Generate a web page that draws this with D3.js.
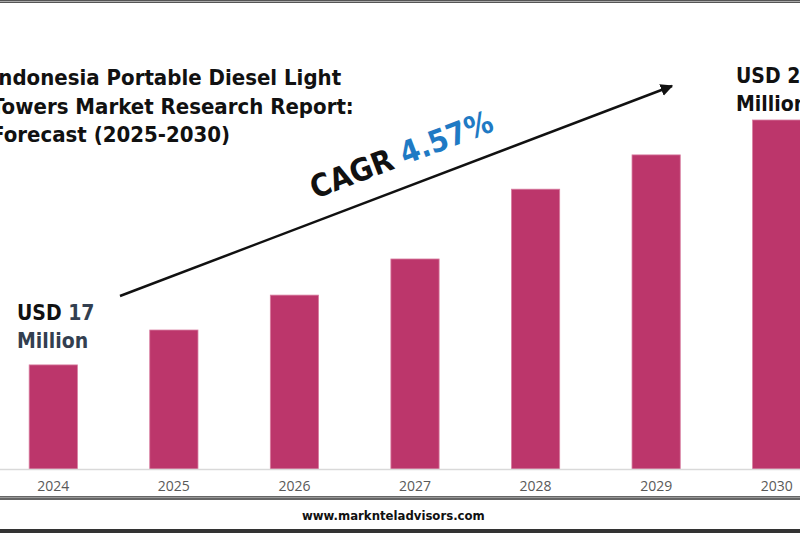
<!DOCTYPE html>
<html>
<head>
<meta charset="utf-8">
<script src="https://cdn.jsdelivr.net/npm/d3@7"></script>
<style>
  body { margin: 0; background: #fff; }
  svg { display: block; }
  text { font-family: 'DejaVu Sans Condensed', 'DejaVu Sans', sans-serif; }
</style>
</head>
<body>
<div id="viz"></div>
<script>
  // data (bar heights in relative units, 2024 = 17)
  var years = ["2024", "2025", "2026", "2027", "2028", "2029", "2030"];
  var values = [17, 22.7, 28.4, 34.3, 45.7, 51.3, 57.0];
  var titleLines = ["Indonesia Portable Diesel Light", "Towers Market Research Report:", "Forecast (2025-2030)"];

  var width = 800, height = 533;
  var base = 469;

  var svg = d3.select("#viz").append("svg")
    .attr("width", width)
    .attr("height", height);

  var x = d3.scaleBand()
    .domain(years)
    .range([-7, 837])
    .paddingInner(0.6)
    .paddingOuter(0.3);

  var y = d3.scaleLinear()
    .domain([0, 57])
    .range([base, 120]);

  // frame lines
  svg.append("rect").attr("x", 0).attr("y", 0).attr("width", width).attr("height", 3).style("fill", "#555");
  svg.append("rect").attr("x", 0).attr("y", 1).attr("width", width).attr("height", 1).style("fill", "#aaa");
  svg.append("rect").attr("x", 0).attr("y", 496).attr("width", width).attr("height", 4).style("fill", "#666");
  svg.append("rect").attr("x", 0).attr("y", 497).attr("width", width).attr("height", 1).style("fill", "#999");
  svg.append("rect").attr("x", 0).attr("y", 529).attr("width", width).attr("height", 4).style("fill", "#333");

  // bars
  svg.selectAll(".bar")
    .data(values)
    .enter().append("rect")
    .attr("class", "bar")
    .attr("x", function(d, i) { return x(years[i]); })
    .attr("width", x.bandwidth())
    .attr("y", function(d) { return y(d); })
    .attr("height", function(d) { return base - y(d); })
    .style("fill", "#bc366b")
    .style("stroke", "#d87da0")
    .style("stroke-width", 0.8);

  // x axis
  var axis = svg.append("g")
    .attr("transform", "translate(0," + base + ")")
    .call(d3.axisBottom(x).tickSize(0).tickPadding(12));
  axis.select(".domain").attr("d", "M0,0.5H" + width).style("stroke", "#d9d9d9").style("stroke-width", 1.5);
  axis.selectAll("text")
    .style("font-family", "'Open Sans', sans-serif")
    .style("font-size", "14px")
    .style("fill", "#595959");

  // title
  svg.append("g").selectAll("text")
    .data(titleLines)
    .enter().append("text")
    .attr("x", -9)
    .attr("y", function(d, i) { return 85 + i * 28.5; })
    .text(function(d) { return d; })
    .style("font-size", "22px")
    .style("font-weight", "bold")
    .style("fill", "#111");

  // CAGR arrow
  svg.append("defs").append("marker")
    .attr("id", "arrow")
    .attr("viewBox", "0 0 10 10")
    .attr("refX", 9).attr("refY", 5)
    .attr("markerWidth", 5).attr("markerHeight", 5)
    .attr("orient", "auto")
    .append("path").attr("d", "M0,0L10,5L0,10z").style("fill", "#111");

  svg.append("line")
    .attr("x1", 120).attr("y1", 296)
    .attr("x2", 672).attr("y2", 86)
    .style("stroke", "#111")
    .style("stroke-width", 2.5)
    .attr("marker-end", "url(#arrow)");

  var angle = Math.atan2(86 - 296, 672 - 120) * 180 / Math.PI;
  var cagr = svg.append("text")
    .attr("transform", "translate(315,199) rotate(" + angle + ")")
    .style("font-size", "31px")
    .style("font-weight", "bold");
  cagr.append("tspan").text("CAGR ").style("fill", "#111");
  cagr.append("tspan").text("4.57%").style("fill", "#1f7ac4");

  // start / end labels
  var start = svg.append("text").attr("x", 17).attr("y", 320).style("font-size", "21px").style("font-weight", "bold");
  start.append("tspan").text("USD ").style("fill", "#111");
  start.append("tspan").text("17").style("fill", "#333f50");
  svg.append("text").attr("x", 17).attr("y", 348).text("Million")
    .style("font-size", "21px").style("font-weight", "bold").style("fill", "#333f50");

  svg.append("text").attr("x", 736).attr("y", 83).text("USD 26")
    .style("font-size", "21px").style("font-weight", "bold").style("fill", "#111");
  svg.append("text").attr("x", 736).attr("y", 111).text("Million")
    .style("font-size", "21px").style("font-weight", "bold").style("fill", "#111");

  // footer
  svg.append("text")
    .attr("x", 302).attr("y", 520)
    .text("www.marknteladvisors.com")
    .style("font-size", "13px")
    .style("font-weight", "bold")
    .style("fill", "#111");
</script>
</body>
</html>
